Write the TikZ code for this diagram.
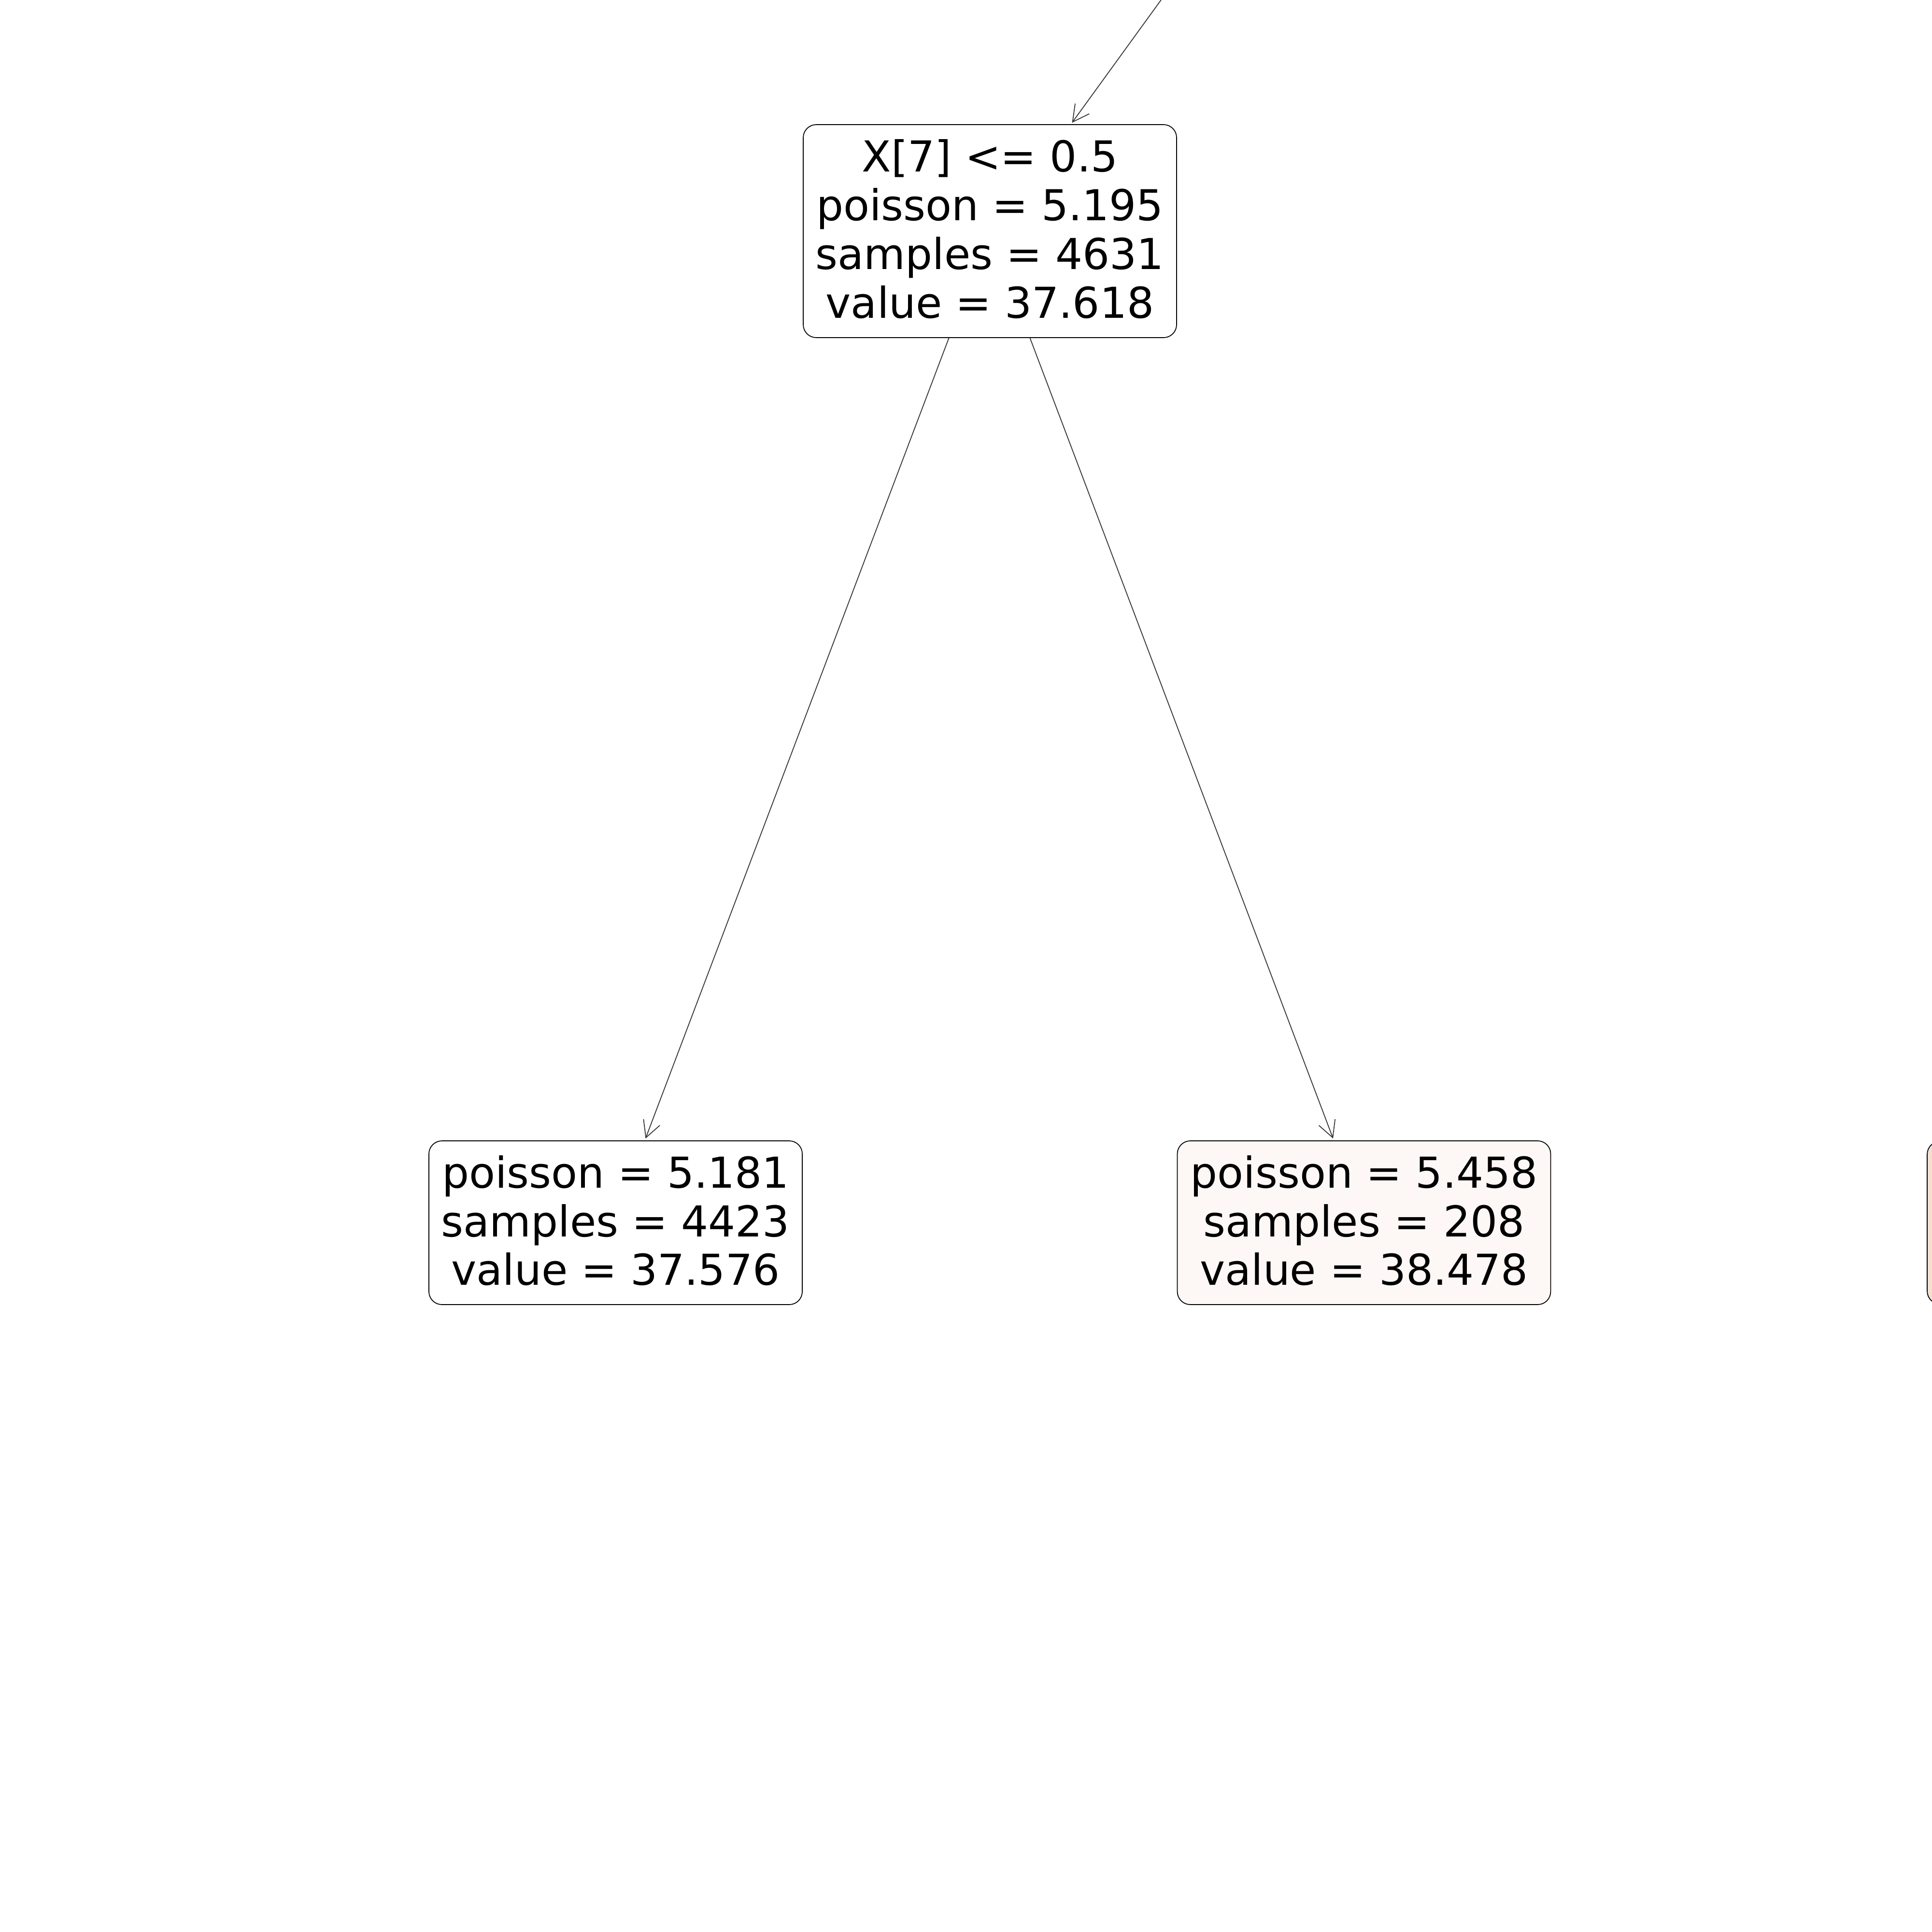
\documentclass[tikz,border=0pt]{standalone}
\usepackage{fontspec}
\setmainfont{DejaVu Sans}
\usetikzlibrary{arrows.meta, calc}

\definecolor{leafa}{RGB}{253,248,245}
\definecolor{leafb}{RGB}{248,223,205}

\begin{document}
\begin{tikzpicture}[edge/.style={draw=black!80, line width=0.5pt, -{Straight Barb[length=0.34cm, width=0.36cm, line width=0.5pt]}}]
        \useasboundingbox (0,0) rectangle (40,-40);
        \clip (0,0) rectangle (40,-40);
        \tikzstyle{every node}=[draw, line width=0.5pt, rounded corners=0.27cm, inner sep=0pt, align=center, minimum width=7.73cm, text depth=0.1cm, font=\fontsize{25.1}{28.7}\selectfont]
        \node(0) at (20.495,-4.785) [minimum height=4.41cm] {X[7] <= 0.5\\poisson = 5.195\\samples = 4631\\value = 37.618};
        \node(0-1) at (12.745,-25.315) [minimum height=3.39cm] {poisson = 5.181\\samples = 4423\\value = 37.576};
        \node(0-2) at (28.24,-25.315) [minimum height=3.39cm, fill=leafa] {poisson = 5.458\\samples = 208\\value = 38.478};
        \node(1) at (43.765,-25.315) [minimum height=3.37cm, fill=leafb] {};
        \coordinate (up) at (24.11,0.1);
        \draw[edge] (up) -- ($(0.north)+(1.70,0.03)$);
        \draw[edge] ($(0.south)+(-0.85,0)$) -- ($(0-1.north)+(0.62,0.04)$);
        \draw[edge] ($(0.south)+(0.83,0)$) -- ($(0-2.north)+(-0.64,0.04)$);
    \end{tikzpicture}
\end{document}
